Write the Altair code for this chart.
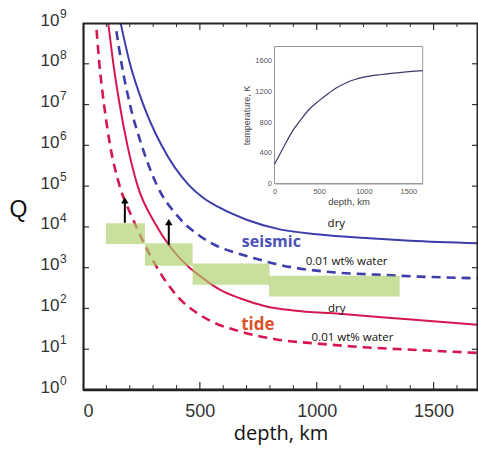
import altair as alt
import pandas as pd

# ---------------- data ----------------
# main panel: depth (km) vs Q
seis_dry_depth = [161, 201, 258, 336, 457, 514, 585, 700, 842, 1000, 1226, 1400, 1690]
seis_dry_q = [1e9, 1e8, 1e7, 1e6, 1e5, 5.2e4, 2.95e4, 1.5e4, 8.7e3, 6.6e3, 5.25e3, 4.6e3, 3.98e3]

seis_wet_depth = [143, 165, 201, 251, 318, 407, 500, 578, 657, 785, 842, 1084, 1250, 1440, 1690]
seis_wet_q = [6.3e8, 1e8, 1e7, 1e6, 1e5, 1.78e4, 6.0e3, 3.3e3, 2.3e3, 1.41e3, 1.17e3, 760, 676, 603, 550]

tide_dry_depth = [108, 130, 157, 190, 234, 308, 372, 450, 500, 585, 671, 785, 900, 1098, 1390, 1690]
tide_dry_q = [1e9, 1e8, 1e7, 1e6, 1e5, 1.23e4, 3.3e3, 1.07e3, 630, 290, 178, 112, 89, 74, 54, 40]

tide_wet_depth = [58, 70, 90, 116, 157, 208, 230, 265, 322, 350, 415, 480, 557, 671, 828, 1000, 1200, 1440, 1690]
tide_wet_q = [6.8e8, 1e8, 1e7, 1e6, 1e5, 1.82e4, 9.5e3, 3.55e3, 890, 500, 170, 83, 46, 27.5, 17.4, 13.8, 11.2, 9.5, 8.1]

# green observation boxes
box_depth_start = [98, 265, 469, 796]
box_depth_end = [265, 469, 798, 1355]
box_q_low = [3.8e3, 1.12e3, 380, 195]
box_q_high = [1.23e4, 3.98e3, 1.26e3, 631]

# arrows
arrow_depth = [179, 367]
arrow_q_base = [1.26e4, 3.6e3]
arrow_q_tip = [5.6e4, 1.64e4]

# annotations
label_text = ["dry", "0.01 wt% water", "dry", "0.01 wt% water"]
label_depth = [1084, 1128, 1086, 1153]
label_q = [1.2e4, 1.35e3, 98, 18.6]
seismic_pos = (806, 4.17e3)
tide_pos = (748, 40)

# axes
x_domain = [0, 1690]
q_domain = [1, 1e9]
decades = [1, 1e1, 1e2, 1e3, 1e4, 1e5, 1e6, 1e7, 1e8, 1e9]
exponents = ["0", "1", "2", "3", "4", "5", "6", "7", "8", "9"]
inner_decades = [1e1, 1e2, 1e3, 1e4, 1e5, 1e6, 1e7, 1e8]
x_major = [500, 1000, 1500]
x_minor = [100, 200, 300, 400, 600, 700, 800, 900, 1100, 1200, 1300, 1400, 1600]
x_labels = [0, 500, 1000, 1500]

# inset: temperature profile
inset_depth = [0, 100, 200, 300, 400, 500, 600, 700, 800, 900, 1000, 1200, 1400, 1660]
inset_temp = [250, 470, 680, 840, 980, 1080, 1170, 1250, 1310, 1355, 1385, 1420, 1445, 1470]
inset_x_domain = [0, 1660]
inset_t_domain = [0, 1785]
inset_x_ticks = [0, 500, 1000, 1500]
inset_y_ticks = [0, 400, 800, 1200, 1600]

# ---------------- chart ----------------
W, H = 395, 367
BLUE = "#3d3dab"
RED = "#d5174f"
FONT = "Liberation Sans"
TFONT = "Open Sans"
FC = "#222"

xs = alt.Scale(domain=x_domain, nice=False, zero=False)
ys = alt.Scale(type="log", domain=q_domain, nice=False)

xaxis = alt.Axis(values=x_labels, format="d", title="depth, km", ticks=False, tickSize=0,
                 domain=True, domainColor=FC, domainWidth=1.4, grid=False,
                 labelFontSize=18, labelFont=FONT,
                 labelColor="#333", labelPadding=12, titleFont=TFONT, titleFontSize=20,
                 titleFontWeight="normal", titleColor="#111", titleY=49,
                 titleBaseline="alphabetic")
yaxis = alt.Axis(values=decades, labelExpr="'10'", title="Q", titleAngle=0, titleX=-65,
                 titleY=186, titleBaseline="middle", titleAlign="center", titleFontSize=23,
                 titleFont=FONT, titleFontWeight="normal", titleColor="#111",
                 ticks=False, tickSize=0, domain=True, domainColor=FC, domainWidth=1.4,
                 grid=False, labelFontSize=17,
                 labelFont=FONT, labelColor="#333", labelPadding=24, labelBaseline="middle",
                 labelOffset=-3)

X = lambda f="depth": alt.X(f"{f}:Q", scale=xs, axis=xaxis)
Y = lambda f="Q": alt.Y(f"{f}:Q", scale=ys, axis=yaxis)


def curve(d, q, color, dash=None, width=2.0):
    df = pd.DataFrame({"depth": d, "Q": q})
    kw = dict(color=color, strokeWidth=width, interpolate="monotone")
    if dash:
        kw["strokeDash"] = dash
    return alt.Chart(df).mark_line(**kw).encode(x=X(), y=Y())


lines = [
    curve(seis_dry_depth, seis_dry_q, BLUE, width=2.0),
    curve(seis_wet_depth, seis_wet_q, BLUE, dash=[9, 6], width=2.6),
    curve(tide_dry_depth, tide_dry_q, RED, width=2.0),
    curve(tide_wet_depth, tide_wet_q, RED, dash=[9, 6], width=2.6),
]

boxes_df = pd.DataFrame({"depth": box_depth_start, "depth2": box_depth_end,
                         "Q": box_q_low, "Q2": box_q_high})
boxes = alt.Chart(boxes_df).mark_rect(color="#abce6c", opacity=0.66).encode(
    x=X(), x2="depth2:Q", y=Y(), y2="Q2:Q")

arrow_df = pd.DataFrame({"depth": arrow_depth, "Q": arrow_q_base, "Q2": arrow_q_tip})
shafts = alt.Chart(arrow_df).mark_rule(color="black", strokeWidth=2, y2Offset=5).encode(
    x=X(), y=Y(), y2="Q2:Q")
heads_df = pd.DataFrame({"depth": arrow_depth, "Q": arrow_q_tip})
heads = alt.Chart(heads_df).mark_point(shape="triangle-up", filled=True, color="black",
                                        size=55, opacity=1).encode(
    x=X(), y=Y(), yOffset=alt.value(4))

lab_df = pd.DataFrame({"depth": label_depth, "Q": label_q, "t": label_text})
labels = alt.Chart(lab_df).mark_text(font=TFONT, fontSize=11.5, color="#111",
                                     baseline="middle").encode(x=X(), y=Y(), text="t:N")
seis_df = pd.DataFrame({"depth": [seismic_pos[0]], "Q": [seismic_pos[1]], "t": ["seismic"]})
seis_txt = alt.Chart(seis_df).mark_text(font=TFONT, fontSize=16, fontWeight="bold",
                                        color="#4b50b4", baseline="middle").encode(
    x=X(), y=Y(), text="t:N")
tide_df = pd.DataFrame({"depth": [tide_pos[0]], "Q": [tide_pos[1]], "t": ["tide"]})
tide_txt = alt.Chart(tide_df).mark_text(font=TFONT, fontSize=17, fontWeight="bold",
                                        color="#d9542c", baseline="middle").encode(
    x=X(), y=Y(), text="t:N")

# superscript exponents of the y tick labels
sup_df = pd.DataFrame({"Q": decades, "e": exponents})
sups = alt.Chart(sup_df).mark_text(font=FONT, fontSize=12, color="#333", align="left",
                                   baseline="middle", dy=-9).encode(
    y=Y(), x=alt.value(-23), text="e:N")

# inward ticks
TC = "#333"
left_ticks = alt.Chart(pd.DataFrame({"Q": inner_decades})).mark_rule(color=TC, strokeWidth=1.2).encode(
    y=Y(), x=alt.value(0), x2=alt.value(6))
right_ticks = alt.Chart(pd.DataFrame({"Q": inner_decades})).mark_rule(color=TC, strokeWidth=1.2).encode(
    y=Y(), x=alt.value(W - 6), x2=alt.value(W))
bot_major = alt.Chart(pd.DataFrame({"depth": x_major})).mark_rule(color=TC, strokeWidth=1.2).encode(
    x=X(), y=alt.value(H), y2=alt.value(H - 8))
bot_minor = alt.Chart(pd.DataFrame({"depth": x_minor})).mark_rule(color=TC, strokeWidth=1.0).encode(
    x=X(), y=alt.value(H), y2=alt.value(H - 5))
top_major = alt.Chart(pd.DataFrame({"depth": x_major})).mark_rule(color=TC, strokeWidth=1.2).encode(
    x=X(), y=alt.value(0), y2=alt.value(7))
top_minor = alt.Chart(pd.DataFrame({"depth": x_minor})).mark_rule(color=TC, strokeWidth=1.0).encode(
    x=X(), y=alt.value(0), y2=alt.value(4))

main = alt.layer(*lines, boxes, shafts, heads, labels, seis_txt, tide_txt, sups,
                 left_ticks, right_ticks, bot_major, bot_minor, top_major, top_minor)

# ---------------- frame of the main panel (own layer, scale range kept inside the view) ----
fxs = alt.Scale(domain=x_domain, range=[0.8, W - 0.8], nice=False, zero=False)
fys = alt.Scale(type="log", domain=q_domain, range=[H - 0.8, 0.8], nice=False)
fr_df = pd.DataFrame({"fx": [x_domain[0]], "fx2": [x_domain[1]],
                      "fq": [q_domain[0]], "fq2": [q_domain[1]]})
main_frame = alt.Chart(fr_df).mark_rect(fill="white", fillOpacity=0, stroke=FC,
                                        strokeWidth=1.4).encode(
    x=alt.X("fx:Q", scale=fxs, axis=None), x2="fx2:Q",
    y=alt.Y("fq:Q", scale=fys, axis=None), y2="fq2:Q")

# ---------------- inset ----------------
ixs = alt.Scale(domain=inset_x_domain, range=[191.5, 339.7], nice=False, zero=False)
iys = alt.Scale(domain=inset_t_domain, range=[160.5, 23.5], nice=False, zero=False)
ixaxis = alt.Axis(orient="bottom", offset=-206.5, values=inset_x_ticks, format="d",
                  title="depth, km", ticks=False, tickSize=0, grid=False, domainColor="#999",
                  labelFont=FONT, labelFontSize=7.5, labelColor="#555", labelPadding=4,
                  titleFont=FONT, titleFontSize=9.5, titleFontWeight="normal",
                  titleColor="#444", titlePadding=1, labelFlush=False)
iyaxis = alt.Axis(orient="left", offset=-191.5, values=inset_y_ticks, format="d",
                  title="temperature, K", ticks=False, tickSize=0, grid=False,
                  domainColor="#999", labelFont=FONT, labelFontSize=7.5, labelColor="#555",
                  labelPadding=3, titleFont=FONT, titleFontSize=9, titleFontWeight="normal",
                  titleColor="#444", titlePadding=3)
IX = alt.X("idepth:Q", scale=ixs, axis=ixaxis)
IY = alt.Y("T:Q", scale=iys, axis=iyaxis)

frame_df = pd.DataFrame({"idepth": [inset_x_domain[0]], "idepth2": [inset_x_domain[1]],
                         "T": [inset_t_domain[0]], "T2": [inset_t_domain[1]]})
frame = alt.Chart(frame_df).mark_rect(fill="white", stroke="#999", strokeWidth=1).encode(
    x=IX, x2="idepth2:Q", y=IY, y2="T2:Q")
inset_line = alt.Chart(pd.DataFrame({"idepth": inset_depth, "T": inset_temp})).mark_line(
    color="#3a3a66", strokeWidth=1.2, interpolate="monotone").encode(x=IX, y=IY)
inset = alt.layer(frame, inset_line)

chart = alt.layer(main, main_frame, inset).resolve_scale(
    x="independent", y="independent").properties(
    width=W, height=H,
    background="white",
    autosize=alt.AutoSizeParams(type="none"),
    padding={"left": 83, "top": 23, "right": 0, "bottom": 60},
).configure_view(stroke=FC, strokeWidth=1.3)

chart.save("out.html", embed_options={"renderer": "svg", "actions": False})
